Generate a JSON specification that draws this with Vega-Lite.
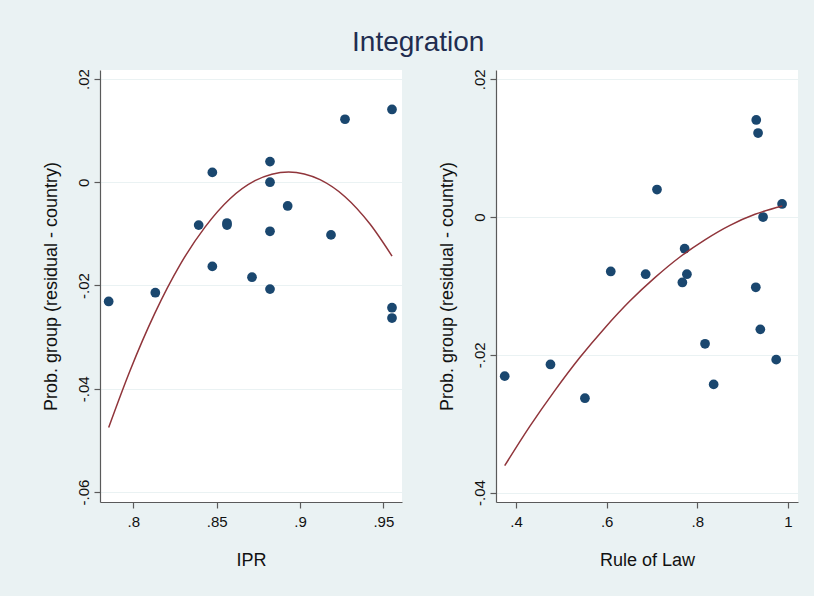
{
  "$schema": "https://vega.github.io/schema/vega-lite/v6.json",
  "background": "#EAF2F3",
  "autosize": {"type": "none"},
  "padding": {"left": 100, "top": 70, "right": 714, "bottom": 526},
  "title": {"text": "Integration", "fontSize": 28, "font": "Liberation Sans", "fontWeight": "normal", "color": "#1F2D50", "anchor": "middle", "dx": -2, "offset": 12},
  "datasets": {
    "points": [
      {"ipr": 0.9552, "rol": 0.930, "y": 0.0141},
      {"ipr": 0.927, "rol": 0.934, "y": 0.0122},
      {"ipr": 0.882, "rol": 0.711, "y": 0.0040},
      {"ipr": 0.8474, "rol": 0.987, "y": 0.0019},
      {"ipr": 0.882, "rol": 0.945, "y": 0.0000},
      {"ipr": 0.8926, "rol": 0.772, "y": -0.0046},
      {"ipr": 0.8562, "rol": 0.609, "y": -0.0079},
      {"ipr": 0.8392, "rol": 0.686, "y": -0.0083},
      {"ipr": 0.8562, "rol": 0.777, "y": -0.0083},
      {"ipr": 0.882, "rol": 0.767, "y": -0.0095},
      {"ipr": 0.9186, "rol": 0.929, "y": -0.0102},
      {"ipr": 0.8474, "rol": 0.939, "y": -0.0163},
      {"ipr": 0.8712, "rol": 0.817, "y": -0.0184},
      {"ipr": 0.882, "rol": 0.974, "y": -0.0207},
      {"ipr": 0.8132, "rol": 0.476, "y": -0.0214},
      {"ipr": 0.7852, "rol": 0.375, "y": -0.0231},
      {"ipr": 0.9552, "rol": 0.836, "y": -0.0243},
      {"ipr": 0.9552, "rol": 0.552, "y": -0.0263}
    ],
    "fitIPR": [
      {"ipr": 0.7852, "fit": -0.0475},
      {"ipr": 0.7980, "fit": -0.0365},
      {"ipr": 0.8130, "fit": -0.0253},
      {"ipr": 0.8280, "fit": -0.0160},
      {"ipr": 0.8430, "fit": -0.0087},
      {"ipr": 0.8580, "fit": -0.0032},
      {"ipr": 0.8730, "fit": 0.0003},
      {"ipr": 0.8932, "fit": 0.0020},
      {"ipr": 0.9120, "fit": 0.0005},
      {"ipr": 0.9270, "fit": -0.0028},
      {"ipr": 0.9420, "fit": -0.0081},
      {"ipr": 0.9552, "fit": -0.0143}
    ],
    "fitROL": [
      {"rol": 0.3750, "fit": -0.0361},
      {"rol": 0.4303, "fit": -0.0304},
      {"rol": 0.4855, "fit": -0.0252},
      {"rol": 0.5407, "fit": -0.0204},
      {"rol": 0.5959, "fit": -0.0161},
      {"rol": 0.6511, "fit": -0.0122},
      {"rol": 0.7063, "fit": -0.0088},
      {"rol": 0.7615, "fit": -0.0058},
      {"rol": 0.8167, "fit": -0.0033},
      {"rol": 0.8720, "fit": -0.0012},
      {"rol": 0.9272, "fit": 0.0004},
      {"rol": 0.9875, "fit": 0.0016}
    ]
  },
  "spacing": 94,
  "bounds": "flush",
  "hconcat": [
    {
      "width": 302,
      "height": 432,
      "layer": [
        {
          "data": {"name": "points"},
          "mark": {"type": "circle", "size": 95, "color": "#1A476F", "opacity": 1},
          "encoding": {
            "x": {"field": "ipr", "type": "quantitative", "title": "IPR",
                  "scale": {"domain": [0.78, 0.9612], "nice": false, "zero": false},
                  "axis": {"values": [0.8, 0.85, 0.9, 0.95]}},
            "y": {"field": "y", "type": "quantitative", "title": "Prob. group (residual - country)",
                  "scale": {"domain": [-0.06194, 0.02174], "nice": false, "zero": false},
                  "axis": {"values": [-0.06, -0.04, -0.02, 0, 0.02]}}
          }
        },
        {
          "data": {"name": "fitIPR"},
          "mark": {"type": "line", "color": "#90353B", "strokeWidth": 1.5, "interpolate": "monotone"},
          "encoding": {
            "x": {"field": "ipr", "type": "quantitative"},
            "y": {"field": "fit", "type": "quantitative"}
          }
        }
      ]
    },
    {
      "width": 302,
      "height": 432,
      "layer": [
        {
          "data": {"name": "points"},
          "mark": {"type": "circle", "size": 95, "color": "#1A476F", "opacity": 1},
          "encoding": {
            "x": {"field": "rol", "type": "quantitative", "title": "Rule of Law",
                  "scale": {"domain": [0.3558, 1.0221], "nice": false, "zero": false},
                  "axis": {"values": [0.4, 0.6, 0.8, 1]}},
            "y": {"field": "y", "type": "quantitative", "title": "Prob. group (residual - country)",
                  "scale": {"domain": [-0.04137, 0.02135], "nice": false, "zero": false},
                  "axis": {"values": [-0.04, -0.02, 0, 0.02]}}
          }
        },
        {
          "data": {"name": "fitROL"},
          "mark": {"type": "line", "color": "#90353B", "strokeWidth": 1.5, "interpolate": "monotone"},
          "encoding": {
            "x": {"field": "rol", "type": "quantitative"},
            "y": {"field": "fit", "type": "quantitative"}
          }
        }
      ]
    }
  ],
  "config": {
    "view": {"stroke": null, "fill": "white"},
    "font": "Liberation Sans",
    "axis": {
      "domainColor": "#5A5A5A",
      "domainWidth": 1.2,
      "tickColor": "#5A5A5A",
      "tickWidth": 1.2,
      "tickSize": 6,
      "labelFont": "Liberation Sans",
      "labelFontSize": 15,
      "labelColor": "#111111",
      "titleFont": "Liberation Sans",
      "titleFontSize": 18,
      "titleFontWeight": "normal",
      "titleColor": "#111111",
      "gridColor": "#EAF2F3",
      "gridWidth": 1.2,
      "labelExpr": "(datum.value < 0 ? '-' : '') + replace(format(abs(datum.value), '.2~f'), '0.', '.')"
    },
    "axisX": {"grid": false, "labelPadding": 6, "titlePadding": 22},
    "axisY": {"grid": true, "labelAngle": -90, "labelAlign": "center", "labelBaseline": "alphabetic", "labelPadding": 5.5, "titlePadding": 16}
  }
}
